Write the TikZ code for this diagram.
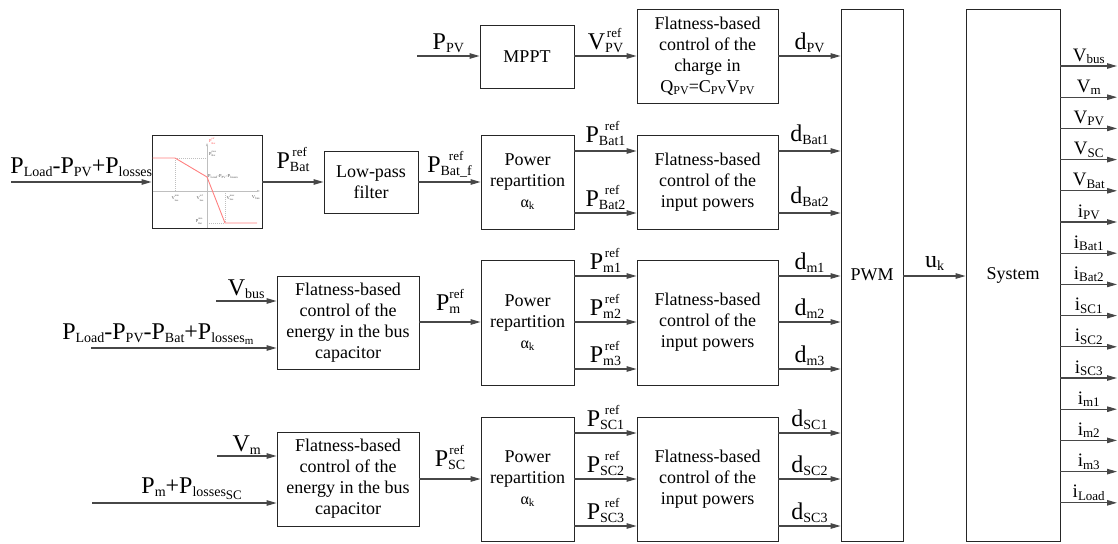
\documentclass[tikz,border=0pt]{standalone}
\usepackage{fontspec}
\setmainfont{Liberation Serif}
\usetikzlibrary{arrows.meta,calc}

% subscript for 24pt labels
\newcommand{\sbs}[1]{{\fontsize{14}{14}\selectfont\raisebox{-3pt}{#1}}}
% subscript + superscript stacked
\newcommand{\ssr}[2]{{\fontsize{14}{14}\selectfont
  \setbox0=\hbox{\raisebox{-3pt}{#1}}%
  \setbox2=\hbox{\fontsize{13}{13}\selectfont\raisebox{12pt}{#2}}%
  \ifdim\wd0>\wd2 \rlap{\hbox to \wd0{\hss\box2\hss}}\box0
  \else\rlap{\box0}\box2\fi}}
% subscript for output labels
\newcommand{\osb}[1]{{\fontsize{13}{13}\selectfont\raisebox{-2.5pt}{#1}}}
% subscript inside boxes
\newcommand{\bsb}[1]{{\fontsize{12}{12}\selectfont\raisebox{-2pt}{#1}}}
\newcommand{\alk}{{\fontsize{16}{16}\selectfont α}{\fontsize{11}{11}\selectfont\raisebox{-2pt}{k}}}
% tiny labels in the inset
\newcommand{\tss}[3]{#1{\fontsize{2.6}{2.6}\selectfont\rlap{\raisebox{3.2pt}{#3}}\raisebox{-1.2pt}{#2}}}

\tikzset{
  blk/.style={draw=black!85, line width=0.9pt, inner sep=0pt, align=center,
    font=\fontsize{18}{21}\selectfont},
  arr/.style={draw=black!72, line width=1.1pt, -{Triangle[length=10pt,width=5.5pt]}},
  lab/.style={inner sep=0pt, anchor=base, font=\fontsize{24}{24}\selectfont, yshift=7pt},
  olab/.style={inner sep=0pt, anchor=base, font=\fontsize{19}{19}\selectfont, yshift=5pt},
  tinyl/.style={inner sep=0pt, font=\fontsize{4.5}{4.5}\selectfont, text=black!70},
  axis/.style={draw=black!25, line width=0.5pt, -{Triangle[length=3pt,width=2pt]}},
  guide/.style={draw=black!25, line width=0.4pt, dash pattern=on 1pt off 1pt},
  curve/.style={draw=red!50, line width=0.9pt},
}

\begin{document}
\begin{tikzpicture}[x=1pt,y=-1pt]
\useasboundingbox (0,0) rectangle (1118,543);

% ---------- blocks ----------
\node[blk, minimum width=94, minimum height=63] (mppt) at (527,56.5) {MPPT};
\node[blk, minimum width=141, minimum height=94] (flpv) at (707.5,56)
  {Flatness-based\\control of the\\charge in\\Q\bsb{PV}=C\bsb{PV}V\bsb{PV}};
\node[blk, minimum width=110, minimum height=93] (graph) at (207,181.5) {};
\node[blk, minimum width=94, minimum height=62] (lpf) at (371,182) {Low-pass\\filter};
\node[blk, minimum width=93, minimum height=94] (rep1) at (527.5,182) {Power\\repartition\\\alk};
\node[blk, minimum width=141, minimum height=94] (fl1) at (707.5,182)
  {Flatness-based\\control of the\\input powers};
\node[blk, minimum width=142, minimum height=93] (en1) at (348,322.5)
  {Flatness-based\\control of the\\energy in the bus\\capacitor};
\node[blk, minimum width=93, minimum height=125] (rep2) at (527.5,322.5) {Power\\repartition\\\alk};
\node[blk, minimum width=141, minimum height=125] (fl2) at (707.5,322.5)
  {Flatness-based\\control of the\\input powers};
\node[blk, minimum width=142, minimum height=94] (en2) at (348,479)
  {Flatness-based\\control of the\\energy in the bus\\capacitor};
\node[blk, minimum width=93, minimum height=124] (rep3) at (527.5,479) {Power\\repartition\\\alk};
\node[blk, minimum width=141, minimum height=124] (fl3) at (707.5,479)
  {Flatness-based\\control of the\\input powers};
\node[blk, minimum width=62, minimum height=532] (pwm) at (872,275) {PWM};
\node[blk, minimum width=94, minimum height=532] (sys) at (1013,275) {System};

% ---------- inset characteristic ----------
\draw[axis] (152.5,191) -- (260,191);
\draw[axis] (207,228) -- (207,143);
\draw[guide] (175,158) -- (175,191);
\draw[guide] (175,158) -- (207,158);
\draw[guide] (225,191) -- (225,223);
\draw[guide] (207,223) -- (225,223);
\draw[curve] (152.5,158) -- (175,158) -- (207,177) -- (225,223) -- (257,223);
\node[tinyl, anchor=west, text=red!70] (gt1) at (209,141) {\tss{P}{Bat}{ref}};
\node[tinyl, anchor=west] (gt2) at (209,154) {\tss{P}{Bat}{max}};
\node[tinyl, anchor=west] (gt3) at (208,177) {P\textsubscript{Load}-P\textsubscript{PV}-P\textsubscript{losses}};
\node[tinyl] (gt4) at (175,198) {\tss{V}{bus}{min}};
\node[tinyl] (gt5) at (200,198) {\tss{V}{bus}{ref}};
\node[tinyl] (gt6) at (230,198) {\tss{V}{bus}{max}};
\node[tinyl] (gt7) at (256,198) {V\textsubscript{bus}};
\node[tinyl] (gt8) at (199,221) {\tss{P}{Bat}{min}};

% ---------- row 1 (PV) ----------
\coordinate (ppvin) at (417,56);
\draw[arr] (ppvin) -- (ppvin -| mppt.west) node[lab,midway] (l1) {P\sbs{PV}};
\draw[arr] (mppt.east |- ppvin) -- (ppvin -| flpv.west) node[lab,midway] (l2) {V\ssr{PV}{ref}};
\draw[arr] (flpv.east |- ppvin) -- (ppvin -| pwm.west) node[lab,midway] (l3) {d\sbs{PV}};

% ---------- row 2 (battery) ----------
\coordinate (pin) at (11,182);
\coordinate (b1) at (0,151);
\coordinate (b2) at (0,213);
\draw[arr] (pin) -- (graph.west |- pin) node[lab,midway,yshift=2pt] (l4)
  {P\sbs{Load}-P\sbs{PV}+P\sbs{losses}};
\draw[arr] (graph.east |- pin) -- (lpf.west |- pin) node[lab,midway,yshift=7pt] (l5) {P\ssr{Bat}{ref}};
\draw[arr] (lpf.east |- pin) -- (rep1.west |- pin) node[lab,midway,yshift=3pt] (l6) {P\ssr{Bat\_f}{ref}};
\draw[arr] (rep1.east |- b1) -- (fl1.west |- b1) node[lab,midway,yshift=2pt] (l7) {P\ssr{Bat1}{ref}};
\draw[arr] (rep1.east |- b2) -- (fl1.west |- b2) node[lab,midway] (l8) {P\ssr{Bat2}{ref}};
\draw[arr] (fl1.east |- b1) -- (pwm.west |- b1) node[lab,midway,yshift=3pt] (l9) {d\sbs{Bat1}};
\draw[arr] (fl1.east |- b2) -- (pwm.west |- b2) node[lab,midway,yshift=3pt] (l10) {d\sbs{Bat2}};

% ---------- row 3 (m) ----------
\coordinate (vbusin) at (216,301);
\coordinate (plin) at (91,348);
\coordinate (m1) at (0,276);
\coordinate (m2) at (0,322);
\coordinate (m3) at (0,369);
\draw[arr] (vbusin) -- (en1.west |- vbusin) node[lab,midway,yshift=-1pt] (l11) {V\sbs{bus}};
\draw[arr] (plin) -- (en1.west |- plin) node[lab,pos=0.36,yshift=2pt] (l12)
  {P\sbs{Load}-P\sbs{PV}-P\sbs{Bat}+P\sbs{losses\raisebox{-2pt}{\fontsize{11}{11}\selectfont m}}};
\draw[arr] (en1.east |- m2) -- (rep2.west |- m2) node[lab,midway,yshift=5pt] (l13) {P\ssr{m}{ref}};
\draw[arr] (rep2.east |- m1) -- (fl2.west |- m1) node[lab,midway] (l14) {P\ssr{m1}{ref}};
\draw[arr] (rep2.east |- m2) -- (fl2.west |- m2) node[lab,midway] (l15) {P\ssr{m2}{ref}};
\draw[arr] (rep2.east |- m3) -- (fl2.west |- m3) node[lab,midway] (l16) {P\ssr{m3}{ref}};
\draw[arr] (fl2.east |- m1) -- (pwm.west |- m1) node[lab,midway] (l17) {d\sbs{m1}};
\draw[arr] (fl2.east |- m2) -- (pwm.west |- m2) node[lab,midway] (l18) {d\sbs{m2}};
\draw[arr] (fl2.east |- m3) -- (pwm.west |- m3) node[lab,midway] (l19) {d\sbs{m3}};

% ---------- row 4 (SC) ----------
\coordinate (vmin) at (217,456);
\coordinate (pmin) at (92,503);
\coordinate (s1) at (0,433);
\coordinate (s2) at (0,479);
\coordinate (s3) at (0,526);
\draw[arr] (vmin) -- (en2.west |- vmin) node[lab,midway,yshift=-2pt] (l20) {V\sbs{m}};
\draw[arr] (pmin) -- (en2.west |- pmin) node[lab,pos=0.54,yshift=3pt] (l21)
  {P\sbs{m}+P\sbs{losses\raisebox{-3pt}{\fontsize{13}{13}\selectfont SC}}};
\draw[arr] (en2.east |- s2) -- (rep3.west |- s2) node[lab,midway,yshift=6pt] (l22) {P\ssr{SC}{ref}};
\draw[arr] (rep3.east |- s1) -- (fl3.west |- s1) node[lab,midway] (l23) {P\ssr{SC1}{ref}};
\draw[arr] (rep3.east |- s2) -- (fl3.west |- s2) node[lab,midway] (l24) {P\ssr{SC2}{ref}};
\draw[arr] (rep3.east |- s3) -- (fl3.west |- s3) node[lab,midway] (l25) {P\ssr{SC3}{ref}};
\draw[arr] (fl3.east |- s1) -- (pwm.west |- s1) node[lab,midway] (l26) {d\sbs{SC1}};
\draw[arr] (fl3.east |- s2) -- (pwm.west |- s2) node[lab,midway] (l27) {d\sbs{SC2}};
\draw[arr] (fl3.east |- s3) -- (pwm.west |- s3) node[lab,midway] (l28) {d\sbs{SC3}};

% ---------- PWM -> System ----------
\draw[arr] (pwm.east |- m1) -- (sys.west |- m1) node[lab,midway,yshift=2pt] (l29) {u\sbs{k}};

% ---------- outputs ----------
\foreach \lb [count=\i from 0] in {{V\osb{bus}},{V\osb{m}},{V\osb{PV}},{V\osb{SC}},{V\osb{Bat}},
   {i\osb{PV}},{i\osb{Bat1}},{i\osb{Bat2}},{i\osb{SC1}},{i\osb{SC2}},{i\osb{SC3}},
   {i\osb{m1}},{i\osb{m2}},{i\osb{m3}},{i\osb{Load}}}{
  \coordinate (o\i) at (1117,{66+31.2*\i});
  \draw[arr] (sys.east |- o\i) -- (o\i) node[olab,midway] (ol\i) {\lb};
}
\end{tikzpicture}
\end{document}
